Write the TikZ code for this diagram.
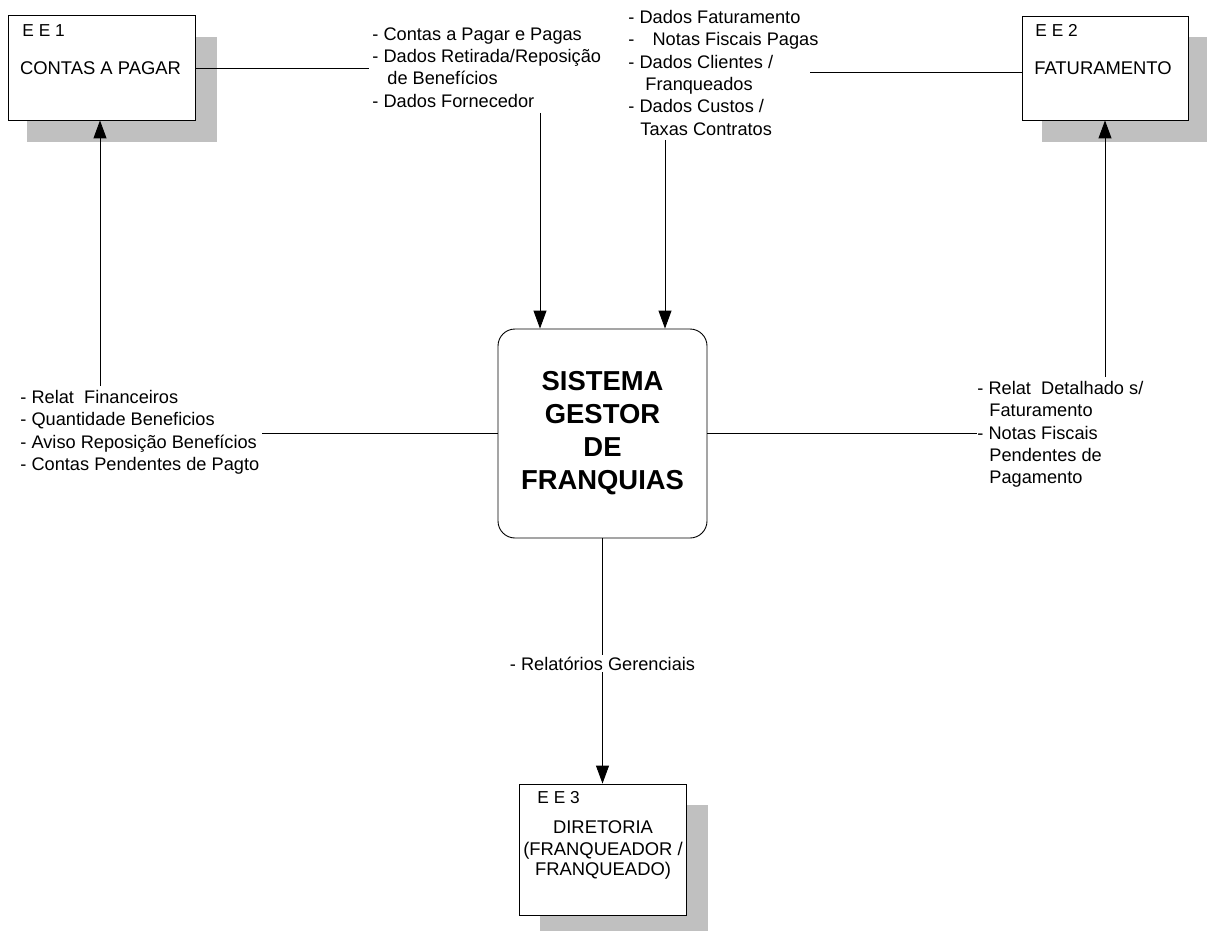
\documentclass[tikz,border=0pt]{standalone}
\usepackage{fontspec}
\setmainfont{Liberation Sans}
\usetikzlibrary{arrows.meta}
\definecolor{shadowgray}{RGB}{192,192,192}
\begin{document}
\begin{tikzpicture}[x=1pt,y=-1pt,
  line width=0.9pt,
  entity/.style={draw=black,fill=white,line width=0.9pt},
  shade/.style={fill=shadowgray,draw=none},
  flow/.style={draw=black,line width=0.9pt},
  arr/.style={flow,-{Triangle[length=18pt,width=13pt]}},
  lbl/.style={font=\fontsize{18.2}{22.3}\selectfont,inner sep=0pt,align=left,anchor=north west},
  tag/.style={font=\fontsize{17.3}{20}\selectfont,inner sep=0pt,anchor=base west},
  ename/.style={font=\fontsize{18.4}{21}\selectfont,inner sep=0pt,anchor=base,align=center}]
\useasboundingbox (0,0) rectangle (1207,931);

% shadows
\fill[shade] (27,37) rectangle (217,142);
\fill[shade] (1042,37) rectangle (1207,142);
\fill[shade] (540,805) rectangle (708,931);

% entity boxes
\draw[entity] (8,15) rectangle (195,120);
\node[draw=none,inner sep=0pt,minimum width=187pt,minimum height=105pt] (ee1) at (101.5,67.5) {};
\node[tag] (ee1t) at (22,37) {E E 1};
\node[ename] (ee1n) at (100.5,75) {CONTAS A PAGAR};

\draw[entity] (1022,16) rectangle (1188,120);
\node[draw=none,inner sep=0pt,minimum width=166pt,minimum height=104pt] (ee2) at (1105,68) {};
\node[tag] (ee2t) at (1035,37) {E E 2};
\node[ename] (ee2n) at (1103,75) {FATURAMENTO};

\draw[entity] (519,784) rectangle (686,915);
\node[draw=none,inner sep=0pt,minimum width=167pt,minimum height=131pt] (ee3) at (602.5,849.5) {};
\node[tag] (ee3t) at (537,803) {E E 3};
\node[ename] (ee3n1) at (603,833) {DIRETORIA};
\node[ename] (ee3n2) at (603,855) {(FRANQUEADOR /};
\node[ename] (ee3n3) at (603,875) {FRANQUEADO)};

% central process
\node[draw=black,fill=white,line width=0.9pt,rounded corners=17pt,minimum width=209pt,minimum height=209pt,inner sep=0pt,
  font=\fontsize{27.4}{33}\selectfont\bfseries,align=center] (sgf) at (602.5,433.5) {SISTEMA\\GESTOR\\DE\\FRANQUIAS};

% labels
\node[lbl] (la) at (372,27) {- Contas a Pagar e Pagas\\- Dados Retirada/Reposição\\\hspace*{15pt}de Benefícios\\- Dados Fornecedor};
\node[lbl] (lb) at (628,10) {- Dados Faturamento\\- \hspace*{13pt}Notas Fiscais Pagas\\- Dados Clientes /\\\hspace*{17pt}Franqueados\\- Dados Custos /\\\hspace*{12pt}Taxas Contratos};
\node[lbl] (lc) at (20,390) {- Relat\ \ Financeiros\\- Quantidade Beneficios\\- Aviso Reposição Benefícios\\- Contas Pendentes de Pagto};
\node[lbl] (ld) at (977,381) {- Relat\ \ Detalhado s/\\\hspace*{12pt}Faturamento\\- Notas Fiscais\\\hspace*{12pt}Pendentes de\\\hspace*{12pt}Pagamento};

% connector end points
\coordinate (c1) at (369,68);
\coordinate (c2) at (540,113);
\coordinate (c3) at (665,140);
\coordinate (c4) at (810,72);
\coordinate (c5) at (1105,377);
\coordinate (c6) at (977,433);
\coordinate (c7) at (100,386);
\coordinate (c8) at (262,433);

% connectors
\draw[flow] (ee1.east |- c1) -- (c1);
\draw[arr] (c2) -- (c2 |- sgf.north);
\draw[arr] (c3) -- (c3 |- sgf.north);
\draw[flow] (c4) -- (c4 -| ee2.west);
\draw[arr] (c5) -- (c5 |- ee2.south);
\draw[flow] (sgf.east |- c6) -- (c6);
\draw[arr] (c7) -- (c7 |- ee1.south);
\draw[flow] (c8) -- (c8 -| sgf.west);
\draw[arr] (sgf.south) -- (sgf.south |- ee3.north)
  node[pos=0.51,fill=white,inner sep=2pt,font=\fontsize{18.2}{20}\selectfont] (le) {- Relatórios Gerenciais};
\end{tikzpicture}
\end{document}
